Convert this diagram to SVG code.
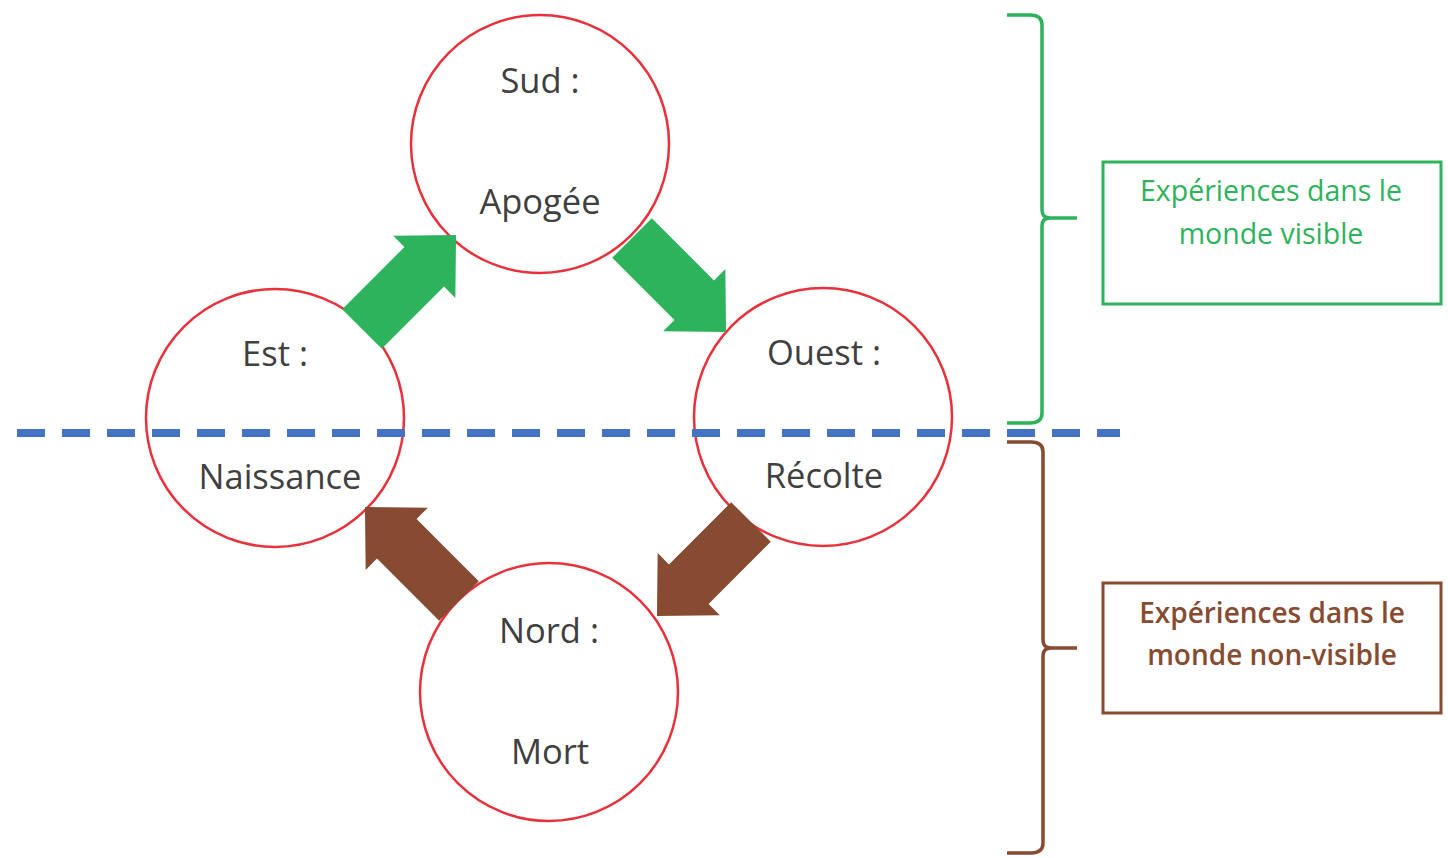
<svg xmlns="http://www.w3.org/2000/svg" width="1448" height="858" viewBox="0 0 1448 858">
<style>
.circ{fill:#fff;stroke:#E8313B;stroke-width:2.5}
.lbl{font-family:"Open Sans","Liberation Sans",sans-serif;font-size:34.5px;fill:#404040;text-anchor:middle}
.g{fill:#2DB35C}
.b{fill:#874B31}
.gtxt{font-family:"Open Sans","Liberation Sans",sans-serif;font-size:28.5px;fill:#2DB35C;text-anchor:middle}
.btxt{font-family:"Open Sans","Liberation Sans",sans-serif;font-size:28px;font-weight:600;fill:#874B31;text-anchor:middle}
</style>
<defs>
<polygon id="arr" points="0,-28 88,-28 88,-44 133,0 88,44 88,28 0,28"/>
</defs>
<rect width="1448" height="858" fill="#fff"/>
<g id="sud"><circle class="circ" cx="540" cy="144" r="129"/><text class="lbl" x="540" y="93">Sud :</text><text class="lbl" x="540" y="214">Apogée</text></g>
<g id="est"><circle class="circ" cx="275" cy="418" r="129"/><text class="lbl" x="275" y="366">Est :</text><text class="lbl" x="280" y="489">Naissance</text></g>
<g id="ouest"><circle class="circ" cx="823" cy="417" r="129"/><text class="lbl" x="824" y="365">Ouest :</text><text class="lbl" x="824" y="488">Récolte</text></g>
<g id="nord"><circle class="circ" cx="549" cy="692" r="129"/><text class="lbl" x="549" y="643">Nord :</text><text class="lbl" x="550" y="764">Mort</text></g>
<g id="connectors">
<use href="#arr" class="g" transform="translate(362,329) rotate(-45)"/>
<use href="#arr" class="g" transform="translate(632,238) rotate(45)"/>
<use href="#arr" class="b" transform="translate(751,522) rotate(135)"/>
<use href="#arr" class="b" transform="translate(459,601) rotate(-135)"/>
<line x1="17" y1="433" x2="1120" y2="433" stroke="#4472C4" stroke-width="8" stroke-dasharray="28 17"/>
<path d="M1007,15 L1030,15 Q1042,15 1042,25 L1042,210 Q1042,218 1050,218 Q1042,218 1042,226 L1042,413 Q1042,423 1030,423 L1007,423 M1050,218 L1077,218" fill="none" stroke="#2DB35C" stroke-width="3.5"/>
<path d="M1007,442 L1031,442 Q1043,442 1043,452 L1043,640 Q1043,648 1051,648 Q1043,648 1043,656 L1043,843 Q1043,853 1031,853 L1007,853 M1051,648 L1077,648" fill="none" stroke="#874B31" stroke-width="3.5"/>
</g>
<g id="visible"><rect x="1103" y="162" width="338" height="142" fill="none" stroke="#2DB35C" stroke-width="3"/><text class="gtxt" x="1271" y="201">Expériences dans le</text><text class="gtxt" x="1271" y="244">monde visible</text></g>
<g id="nonvisible"><rect x="1103" y="583" width="338" height="130" fill="none" stroke="#874B31" stroke-width="3"/><text class="btxt" x="1272" y="623">Expériences dans le</text><text class="btxt" x="1272" y="665">monde non-visible</text></g>
</svg>
